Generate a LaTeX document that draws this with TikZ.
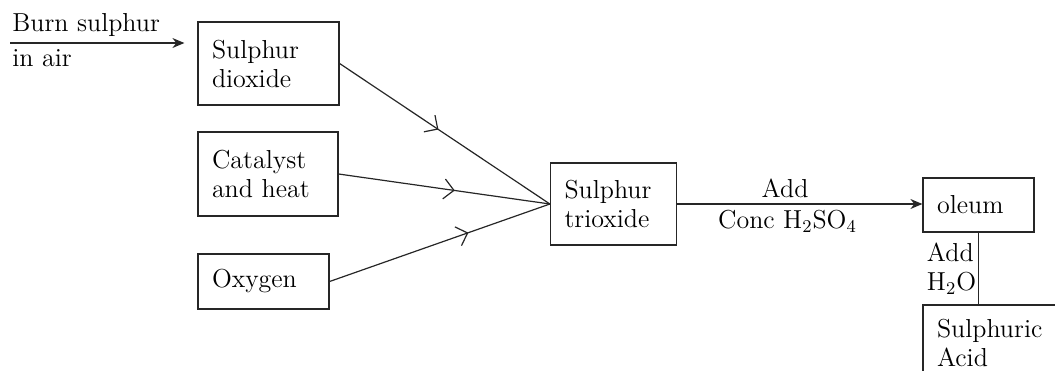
\documentclass[tikz,border=0pt]{standalone}
\usetikzlibrary{arrows.meta,decorations.markings}
\tikzset{
  blocco/.style={draw, black!85, text=black, line width=0.6pt, align=left, inner xsep=7pt, font=\fontsize{13}{14.5}\selectfont},
  freccia/.style={line width=0.6pt, black!85, -{Stealth[length=6pt,width=5pt]}},
  linea/.style={line width=0.6pt, black!85},
  midarrow/.style={postaction={decorate}, decoration={markings, mark=at position #1 with {\arrow{Straight Barb[length=5pt,width=10pt,line width=0.6pt]}}}},
  testo/.style={font=\fontsize{13}{14.5}\selectfont, inner sep=1pt}
}
\begin{document}
\begin{tikzpicture}[x=0.5pt,y=-0.5pt]
        \useasboundingbox (0,0) rectangle (1055,370);
        % Blocchi
        \node [blocco, text width=56.5pt, minimum height=41.5pt] (so2) at (268.5,63.5) {Sulphur\\dioxide};
        \node [blocco, text width=56pt, minimum height=42pt] (cat) at (268,174) {Catalyst\\and heat};
        \node [blocco, text width=51.5pt, minimum height=27.5pt] (oxy) at (263.5,281.5) {Oxygen};
        \node [blocco, text width=49pt, minimum height=41pt] (so3) at (613.5,204) {Sulphur\\trioxide};
        \node [blocco, text width=41.5pt, minimum height=27pt] (oleum) at (978.5,205) {oleum};
        \node [blocco, text width=62pt, minimum height=37.5pt] (acid) at (999,342.5) {Sulphuric\\Acid};
        % Frecce
        \coordinate (burn) at (10,43);
        \draw [freccia, shorten >=6.5pt] (burn) -- (burn -| so2.west);
        \draw [linea, midarrow=0.47] (so2.east) -- (so3.west);
        \draw [linea, midarrow=0.55] (cat.east) -- (so3.west);
        \draw [linea, midarrow=0.63] (oxy.east) -- (so3.west);
        \draw [freccia] (so3.east) -- (so3.east -| oleum.west);
        \draw [linea] (oleum.south) -- (oleum.south |- acid.north);
        % Etichette
        \node [testo, anchor=south west, inner ysep=3pt] (burntop) at (burn) {Burn sulphur};
        \node [testo, anchor=north west, inner ysep=3pt] (burnbot) at (burn) {in air};
        \path (so3.east) -- (so3.east -| oleum.west)
            node [testo, pos=0.44, above=2pt] (add1) {Add}
            node [testo, pos=0.45, below=2pt] (conc) {Conc H$_2$SO$_4$};
        \path (oleum.south) -- (oleum.south |- acid.north)
            node [testo, midway, left=0pt, align=left] (add2) {Add\\H$_2$O};
    \end{tikzpicture}
\end{document}
